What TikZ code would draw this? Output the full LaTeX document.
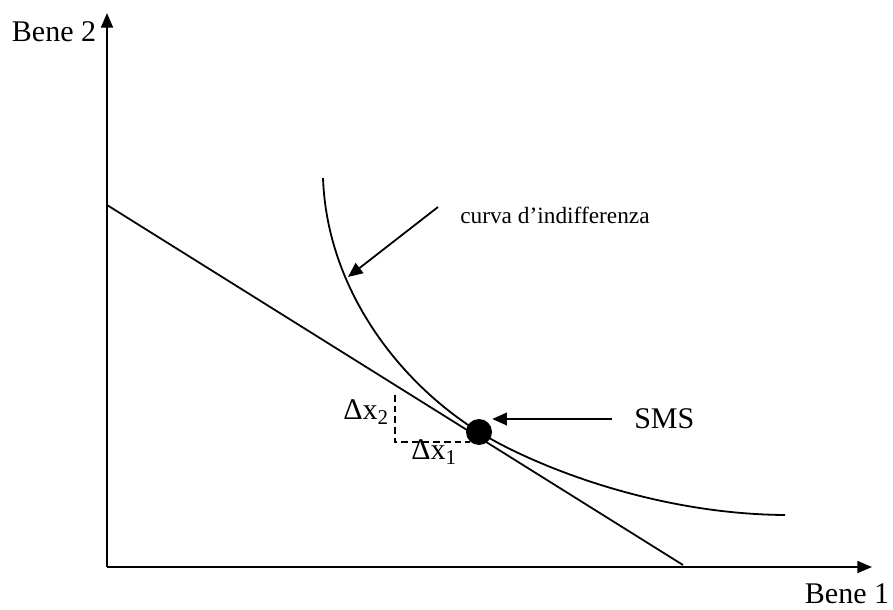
\documentclass[tikz,border=0pt]{standalone}
\usepackage{fontspec}
\setmainfont{Liberation Serif}
\usetikzlibrary{arrows.meta, positioning}

\begin{document}
\begin{tikzpicture}[x=0.75pt, y=-0.75pt,
    axis/.style={-{Triangle[length=11pt,width=9pt]}, line width=1.35pt},
    pointer/.style={-{Triangle[length=11pt,width=9.5pt]}, line width=1.35pt},
    curveline/.style={line width=1.35pt},
    guide/.style={line width=1pt, dash pattern=on 5pt off 3pt},
    lab/.style={font=\fontsize{22.5}{26}\selectfont, inner sep=0pt},
    smalllab/.style={font=\fontsize{17.5}{21}\selectfont, inner sep=0pt},
    dot/.style={circle, fill=black, inner sep=0pt, minimum size=19.5pt}
]
    \useasboundingbox (0,0) rectangle (893,610);

    % axes
    \coordinate (origin) at (107,567);
    \coordinate (yend) at (107,13);
    \coordinate (xend) at (872,567);
    \draw[axis] (origin) -- (yend);
    \draw[axis] (origin) -- (xend);
    \node[lab] (ylab) at (54,32) {Bene 2};
    \node[lab] (xlab) at (847,594) {Bene 1};

    % budget line
    \coordinate (budgettop) at (107,205);
    \coordinate (budgetend) at (683,565);
    \draw[curveline] (budgettop) -- (budgetend);

    % indifference curve
    \coordinate (curvetop) at (323,178);
    \coordinate (tangency) at (479,432);
    \coordinate (curveend) at (785,515);
    \draw[curveline] (curvetop) .. controls (327,290) and (400,383) .. (tangency)
        .. controls (529,463) and (650,514) .. (curveend);

    % tangency point
    \node[dot] (smspoint) at (tangency) {};

    % slope triangle
    \coordinate (dashtop) at (395,395);
    \coordinate (dashcorner) at (395,442);
    \coordinate (dashend) at (470,442);
    \draw[guide] (dashtop) -- (dashcorner) -- (dashend);
    \node[lab] (dxtwo) at (366,412) {Δx\textsubscript{2}};
    \node[lab] (dxone) at (434,452) {Δx\textsubscript{1}};

    % labels with arrows
    \node[smalllab, anchor=west] (curvelab) at (460,215) {curva d’indifferenza};
    \coordinate (curvetail) at (438,207);
    \coordinate (curvehit) at (348,277);
    \draw[pointer] (curvetail) -- (curvehit);

    \node[lab, anchor=west] (smslab) at (634,419) {SMS};
    \coordinate (smstail) at (612,419);
    \draw[pointer] (smstail) -- (smstail -| smspoint.east);
\end{tikzpicture}
\end{document}
